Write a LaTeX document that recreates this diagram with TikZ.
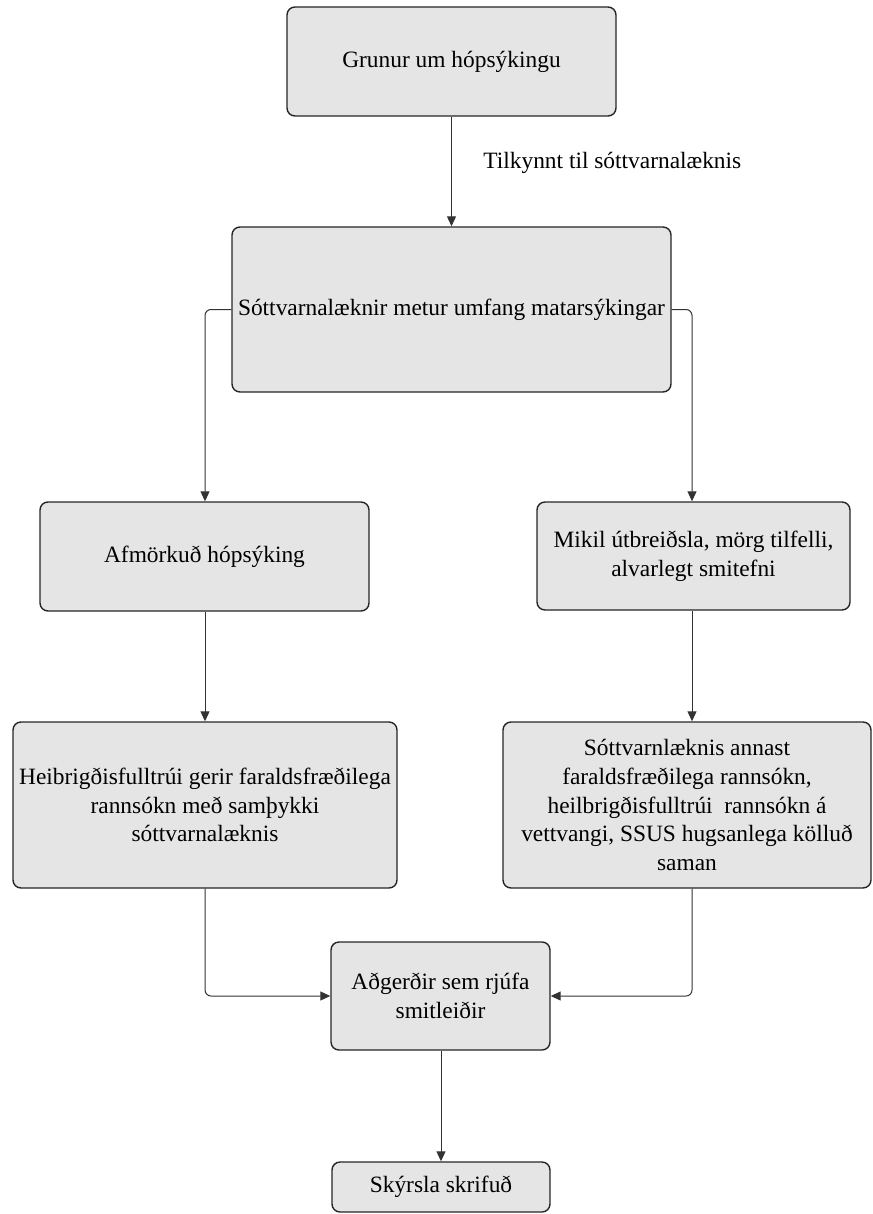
\documentclass[tikz,border=0pt]{standalone}
\usepackage{fontspec}
\setmainfont{Liberation Serif}
\usetikzlibrary{arrows.meta,calc}

\tikzset{
  flowbox/.style={draw=black!85, line width=0.7pt, fill=black!10, rounded corners=4pt,
    align=center, inner sep=2pt, font=\fontsize{11.7}{14.3}\selectfont},
  % width x height in pixels of the page grid (1 px = 0.5 pt)
  boxsize/.style 2 args={minimum width=#1*0.5pt, minimum height=#2*0.5pt},
  link/.style={draw=black!80, line width=0.5pt, rounded corners=3pt,
    -{Triangle[width=4.5pt,length=5pt]}},
  note/.style={font=\fontsize{11.7}{14.3}\selectfont, inner sep=0pt}
}

\begin{document}
\begin{tikzpicture}[x=0.5pt, y=-0.5pt]
  \useasboundingbox (0,0) rectangle (872,1214);

  \node[flowbox, boxsize={329}{109}] (grun) at (451.5,61.5) {Grunur um hópsýkingu};
  \node[flowbox, boxsize={439}{165}] (meta) at (451.5,309.5) {Sóttvarnalæknir metur umfang matarsýkingar};
  \node[flowbox, boxsize={329}{109}] (afm) at (204.5,556.5) {Afmörkuð hópsýking};
  \node[flowbox, boxsize={313}{108}] (mikil) at (693.5,556) {Mikil útbreiðsla, mörg tilfelli,\\alvarlegt smitefni};
  \node[flowbox, boxsize={384}{166}] (heil) at (205,805) {Heibrigðisfulltrúi gerir faraldsfræðilega\\rannsókn með samþykki\\sóttvarnalæknis};
  \node[flowbox, boxsize={368}{166}] (stor) at (687,805) {Sóttvarnlæknis annast\\faraldsfræðilega rannsókn,\\heilbrigðisfulltrúi\ \ rannsókn á\\vettvangi, SSUS hugsanlega kölluð\\saman};
  \node[flowbox, boxsize={219}{108}] (adg) at (440.5,996) {Aðgerðir sem rjúfa\\smitleiðir};
  \node[flowbox, boxsize={218}{50}] (sky) at (441,1187) {Skýrsla skrifuð};

  \node[note, anchor=west] (tilk) at (483,163) {Tilkynnt til sóttvarnalæknis};

  \coordinate (lcol) at (205,0);
  \coordinate (rcol) at (692,0);

  \draw[link] (grun.south) -- (grun.south |- meta.north);
  \draw[link] (meta.west) -| (lcol |- afm.north);
  \draw[link] (meta.east) -| (rcol |- mikil.north);
  \draw[link] (afm.south -| lcol) -- (lcol |- heil.north);
  \draw[link] (mikil.south -| rcol) -- (rcol |- stor.north);
  \draw[link] (heil.south -| lcol) |- (adg.west);
  \draw[link] (stor.south -| rcol) |- (adg.east);
  \draw[link] (adg.south -| sky.north) -- (sky.north);
\end{tikzpicture}
\end{document}
